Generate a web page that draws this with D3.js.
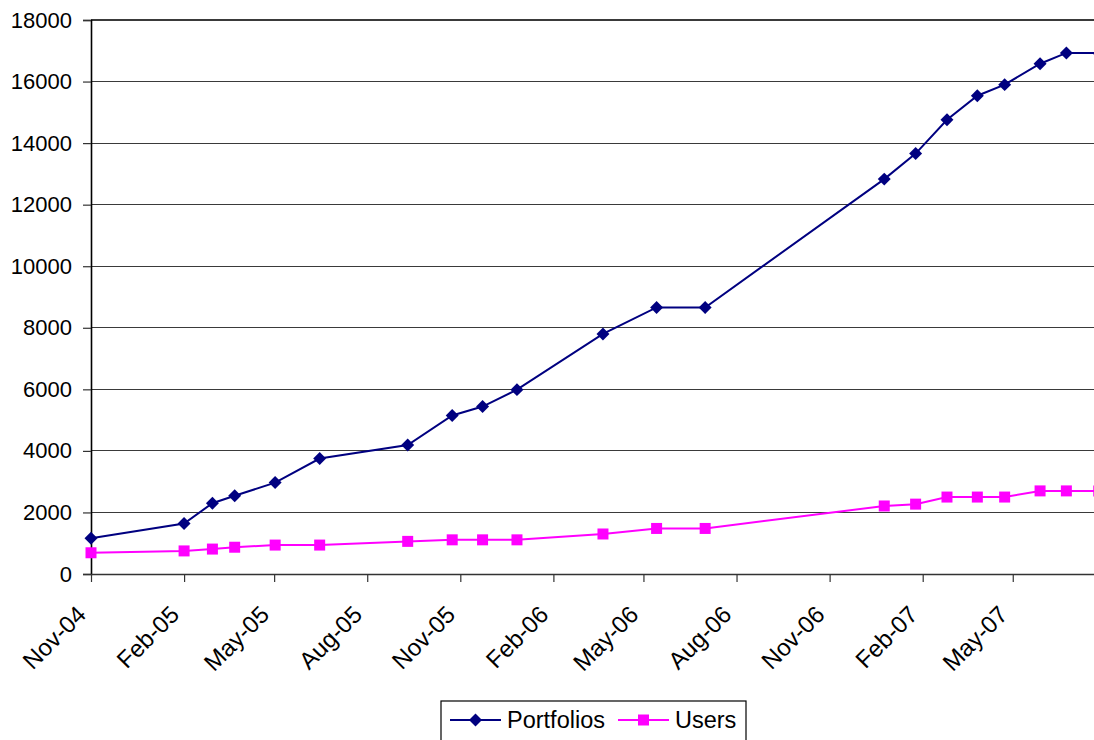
<!DOCTYPE html>
<html>
<head>
<meta charset="utf-8">
<script src="https://cdn.jsdelivr.net/npm/d3@7"></script>
<style>
  html, body { margin: 0; padding: 0; background: #fff; }
  svg { display: block; }
  text { font-family: "Liberation Sans", Arial, sans-serif; }
</style>
</head>
<body>
<div id="chart"></div>
<script>
// Observation dates (ISO) shared by both series
const dates = [
  "2004-11-01", "2005-02-01", "2005-03-01", "2005-03-23", "2005-05-02",
  "2005-06-15", "2005-09-10", "2005-10-24", "2005-11-23", "2005-12-27",
  "2006-03-22", "2006-05-14", "2006-07-01", "2006-12-25", "2007-01-25",
  "2007-02-25", "2007-03-27", "2007-04-23", "2007-05-28", "2007-06-23",
  "2007-07-25"
];
const portfolios = [
  1160, 1640, 2300, 2540, 2970,
  3750, 4190, 5150, 5440, 5990,
  7800, 8660, 8660, 12830, 13660,
  14760, 15540, 15900, 16580, 16930,
  16930
];
const users = [
  690, 750, 810, 870, 940,
  940, 1060, 1110, 1110, 1110,
  1300, 1480, 1480, 2210, 2270,
  2500, 2500, 2500, 2700, 2700,
  2700
];
const yTicks = [0, 2000, 4000, 6000, 8000, 10000, 12000, 14000, 16000, 18000];
const xTickLabels = ["Nov-04", "Feb-05", "May-05", "Aug-05", "Nov-05", "Feb-06",
                     "May-06", "Aug-06", "Nov-06", "Feb-07", "May-07"];
const seriesNames = ["Portfolios", "Users"];

const W = 1094, H = 740;
const parse = d3.timeParse("%Y-%m-%d");
const tickParse = d3.timeParse("%b-%y");
const fmt = d3.timeFormat("%b-%y");

const margin = { left: 91, top: 20 };
const plotBottom = 574;

const x = d3.scaleTime()
  .domain([parse("2004-11-01"), parse("2007-08-01")])
  .range([margin.left, margin.left + 1003 * 1.0118]);
const y = d3.scaleLinear().domain([0, 18000]).range([plotBottom, margin.top]);

const svg = d3.select("#chart").append("svg")
  .attr("width", W).attr("height", H);

// Horizontal gridlines
svg.append("g")
  .selectAll("line").data(yTicks.slice(1)).join("line")
  .attr("x1", margin.left).attr("x2", x.range()[1])
  .attr("y1", d => y(d)).attr("y2", d => y(d))
  .attr("stroke", "#3a3a3a").attr("stroke-width", 1.2)
  .attr("shape-rendering", "crispEdges");

// Y axis
const yAxis = svg.append("g")
  .attr("transform", `translate(${margin.left},0)`)
  .call(d3.axisLeft(y).tickValues(yTicks).tickFormat(d3.format("d")).tickSize(8).tickPadding(11));
yAxis.select(".domain").attr("stroke", "#000").attr("stroke-width", 1.6);
yAxis.selectAll(".tick line").attr("stroke", "#333").attr("stroke-width", 1.2);
yAxis.selectAll(".tick text").attr("font-size", 22).attr("fill", "#000")
  .attr("font-family", "Liberation Sans, Arial, sans-serif");

// X axis (quarterly date ticks)
const xAxis = svg.append("g")
  .attr("transform", `translate(0,${plotBottom})`)
  .call(d3.axisBottom(x).tickValues(xTickLabels.map(tickParse)).tickFormat(fmt).tickSize(8).tickSizeOuter(0));
xAxis.select(".domain").attr("stroke", "#333").attr("stroke-width", 1.6);
xAxis.selectAll(".tick line").attr("stroke", "#333").attr("stroke-width", 1.2);
xAxis.selectAll(".tick text")
  .attr("font-size", 24).attr("fill", "#000")
  .attr("font-family", "Liberation Sans, Arial, sans-serif")
  .attr("text-anchor", "end")
  .attr("dy", null).attr("y", 0)
  .attr("transform", "translate(-4,42) rotate(-45)");

// Series
const rows = dates.map((d, i) => ({ date: parse(d), p: portfolios[i], u: users[i] }));
const series = [
  { name: seriesNames[0], key: "p", color: "#000080", size: 84 },
  { name: seriesNames[1], key: "u", color: "#ff00ff", size: 121 }
];
const diamond = d3.symbol().type(d3.symbolSquare).size(series[0].size)();
const square = d3.symbol().type(d3.symbolSquare).size(series[1].size)();

series.forEach(s => {
  const line = d3.line().x(d => x(d.date)).y(d => y(d[s.key]));
  svg.append("path").datum(rows)
    .attr("d", line).attr("fill", "none")
    .attr("stroke", s.color).attr("stroke-width", 2);
  const marks = svg.append("g").selectAll("path").data(rows).join("path")
    .attr("fill", s.color);
  if (s.key === "p") {
    marks.attr("d", diamond)
      .attr("transform", d => `translate(${x(d.date)},${y(d[s.key])}) rotate(45)`);
  } else {
    marks.attr("d", square)
      .attr("transform", d => `translate(${x(d.date)},${y(d[s.key])})`);
  }
});

// Legend
const lg = svg.append("g").attr("transform", "translate(441,701)");
lg.append("rect").attr("x", 0).attr("y", 0).attr("width", 305).attr("height", 60)
  .attr("fill", "#fff").attr("stroke", "#000").attr("stroke-width", 1.2);
const items = [
  { s: series[0], x0: 9, tx: 66 },
  { s: series[1], x0: 177, tx: 234 }
];
items.forEach(it => {
  const cy = 19;
  lg.append("line").attr("x1", it.x0).attr("x2", it.x0 + 51)
    .attr("y1", cy).attr("y2", cy).attr("stroke", it.s.color).attr("stroke-width", 2);
  if (it.s.key === "p") {
    lg.append("path").attr("d", diamond).attr("fill", it.s.color)
      .attr("transform", `translate(${it.x0 + 25.5},${cy}) rotate(45)`);
  } else {
    lg.append("path").attr("d", square)
      .attr("fill", it.s.color).attr("transform", `translate(${it.x0 + 25.5},${cy})`);
  }
  lg.append("text").attr("x", it.tx).attr("y", cy + 8)
    .attr("font-size", 23.5).attr("fill", "#000").text(it.s.name);
});
</script>
</body>
</html>
